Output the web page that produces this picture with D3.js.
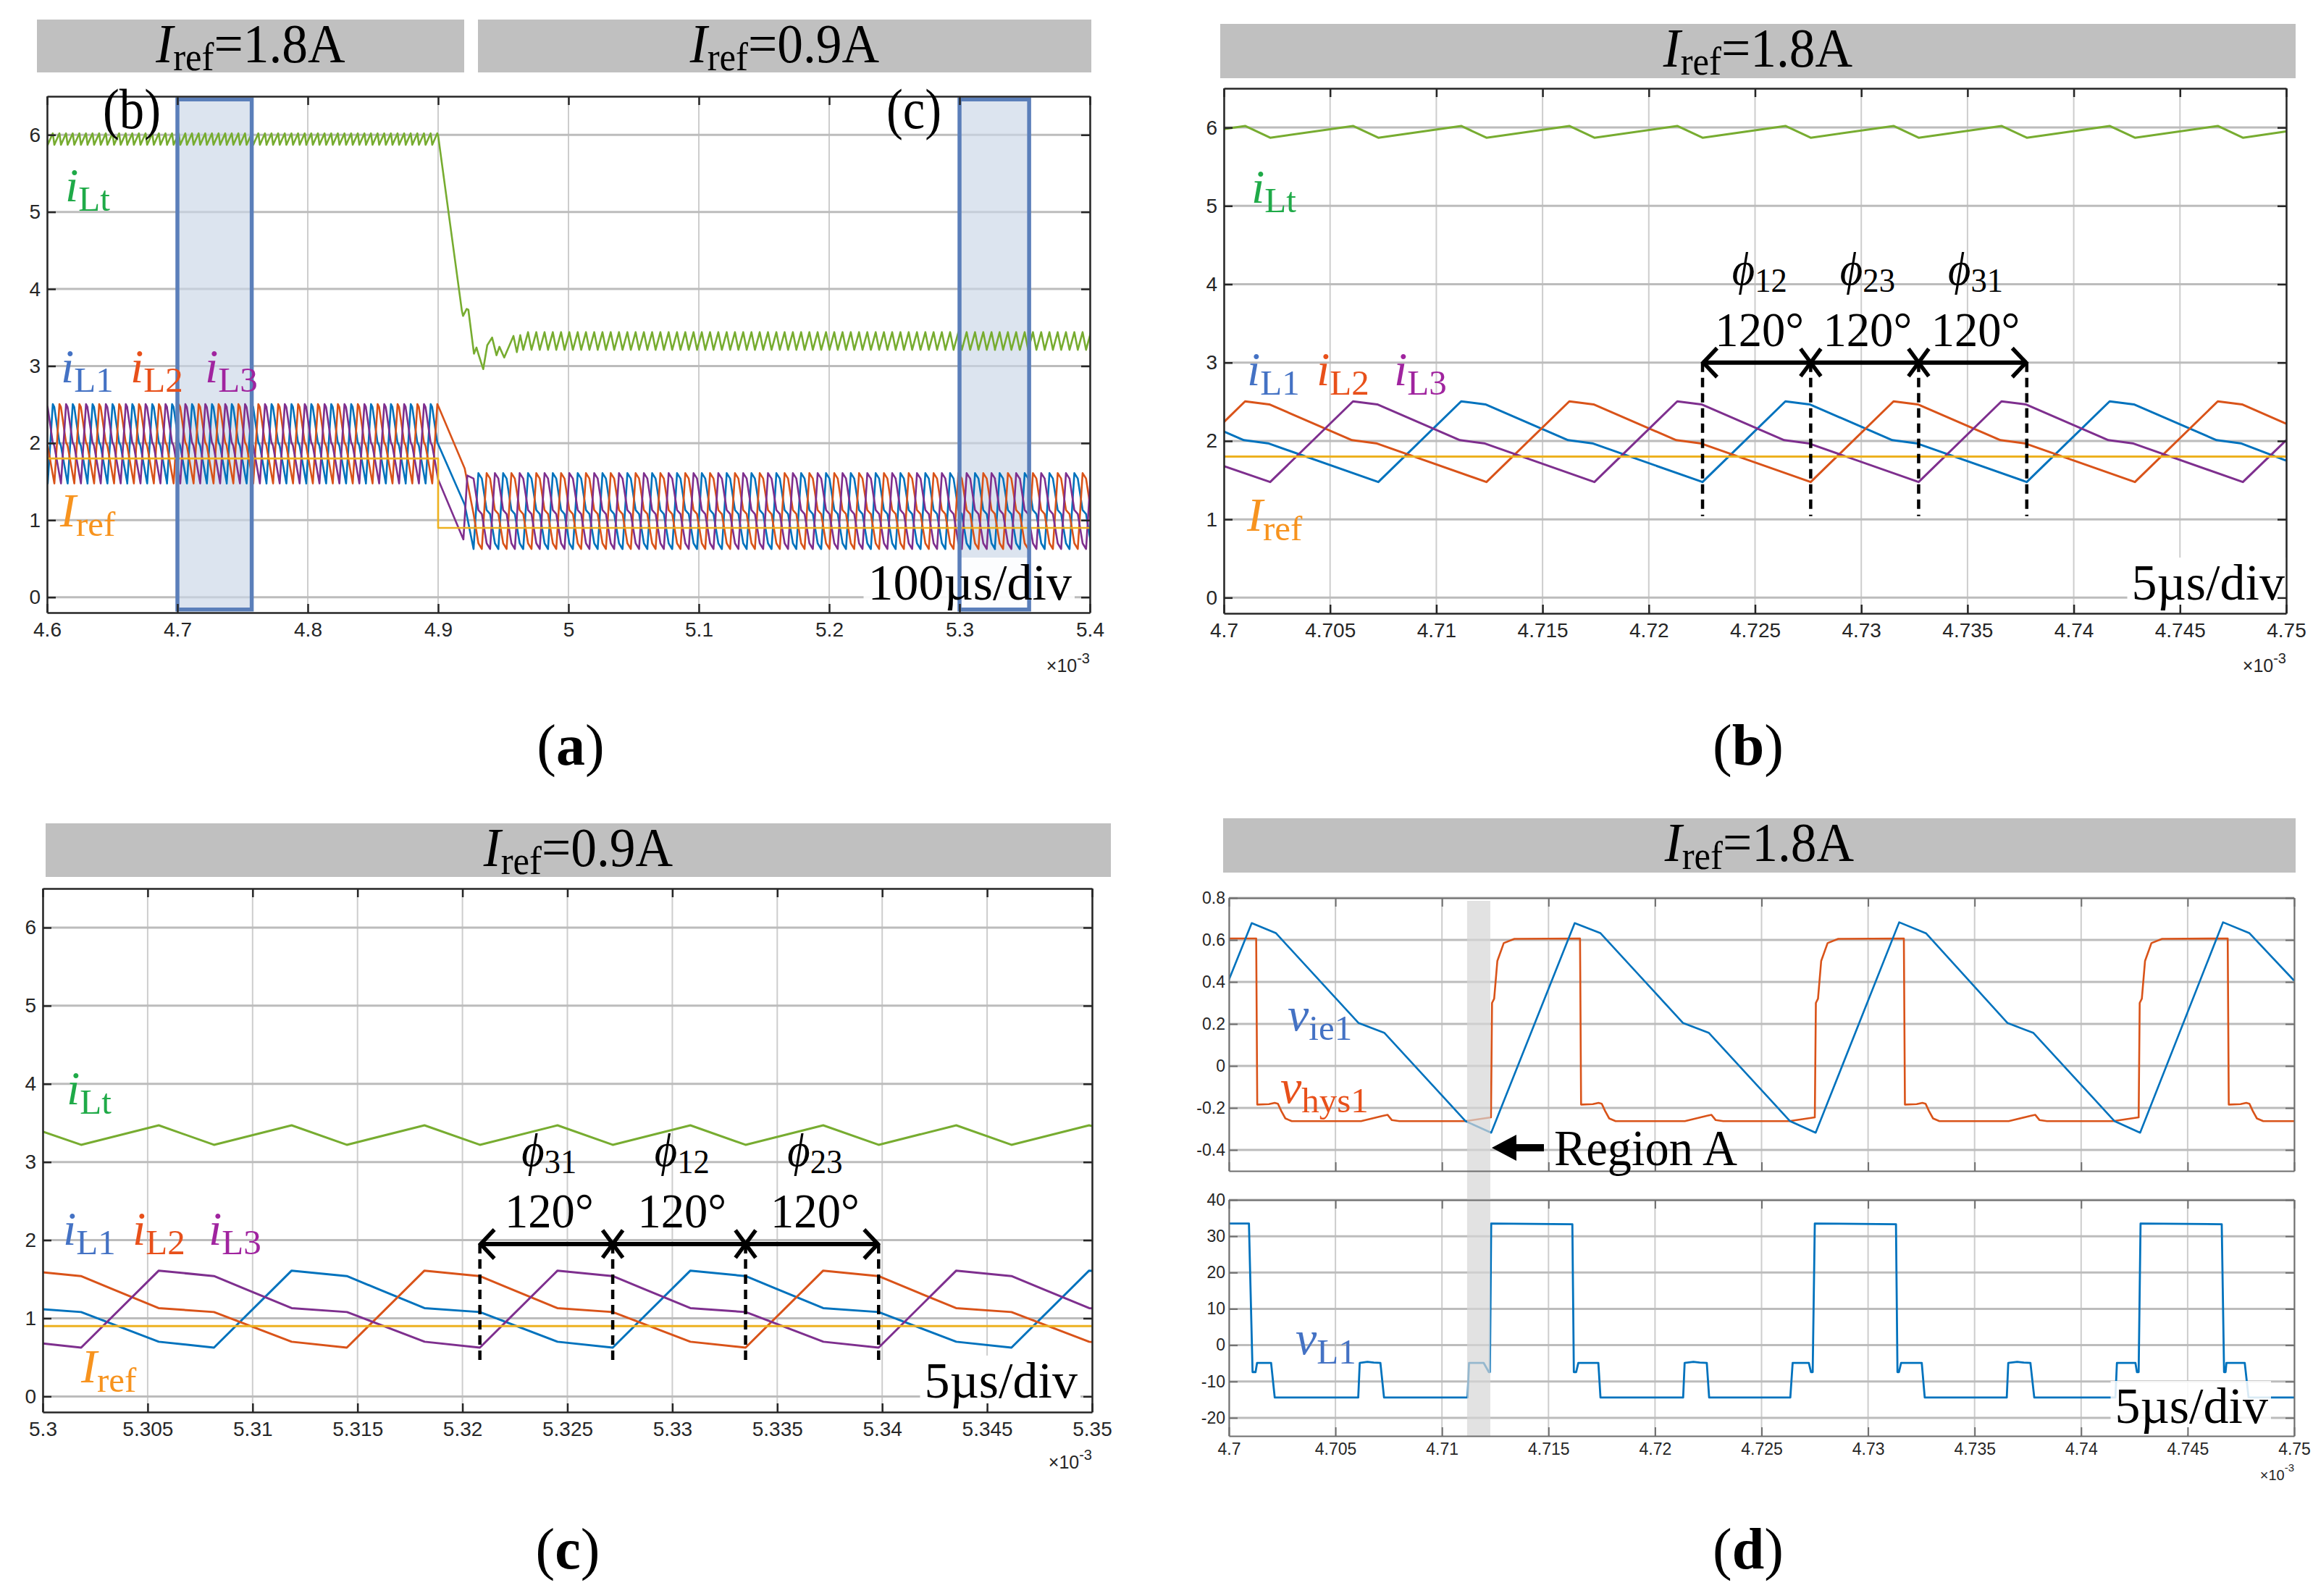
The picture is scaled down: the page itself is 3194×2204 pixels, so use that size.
<!DOCTYPE html>
<html><head><meta charset="utf-8">
<script src="https://cdn.jsdelivr.net/npm/d3@7"></script>
<style>body{margin:0;background:#fff}svg{display:block}</style>
</head><body>
<svg id="c" width="3194" height="2204" xmlns="http://www.w3.org/2000/svg"></svg>
<script>
// ================= DATA =================
const iTicks = [0, 1, 2, 3, 4, 5, 6];
const iTickLabels = ["0", "1", "2", "3", "4", "5", "6"];
const a_xTicks = [4.6, 4.7, 4.8, 4.9, 5.0, 5.1, 5.2, 5.3, 5.4];
const a_xTickLabels = ["4.6", "4.7", "4.8", "4.9", "5", "5.1", "5.2", "5.3", "5.4"];
const b_xTicks = [4.7, 4.705, 4.71, 4.715, 4.72, 4.725, 4.73, 4.735, 4.74, 4.745, 4.75];
const b_xTickLabels = ["4.7", "4.705", "4.71", "4.715", "4.72", "4.725", "4.73", "4.735", "4.74", "4.745", "4.75"];
const c_xTicks = [5.3, 5.305, 5.31, 5.315, 5.32, 5.325, 5.33, 5.335, 5.34, 5.345, 5.35];
const c_xTickLabels = ["5.3", "5.305", "5.31", "5.315", "5.32", "5.325", "5.33", "5.335", "5.34", "5.345", "5.35"];
const d_vTicks = [-0.4, -0.2, 0, 0.2, 0.4, 0.6, 0.8];
const d_vTickLabels = ["-0.4", "-0.2", "0", "0.2", "0.4", "0.6", "0.8"];
const d_vLTicks = [-20, -10, 0, 10, 20, 30, 40];
const d_vLTickLabels = ["-20", "-10", "0", "10", "20", "30", "40"];

// ---- Panel (a): times in µs after 4.6 ms ----
// iL1 valley times (start of each switching cycle) before and after the step
const a_preStarts = [-14.8, 0.5, 15.8, 31.0, 46.3, 61.5, 76.8, 92.0, 107.3, 122.6, 137.8, 153.1, 168.3, 183.6, 198.8, 214.1, 229.4, 244.6, 259.9, 275.1, 290.4];
const a_postStarts = [327.2, 346.2, 365.3, 384.3, 403.4, 422.4, 441.5, 460.5, 479.6, 498.6, 517.7, 536.7, 555.8, 574.8, 593.9, 612.9, 632.0, 651.0, 670.1, 689.1, 708.2, 727.1, 746.3, 765.3, 784.4];
// one measured switching cycle per series, [µs after iL1 valley, A]
const a_preCycle_iL1 = [[0, 1.476], [3.9, 2.505], [5.04, 2.467], [8.93, 2.01], [10.07, 1.97], [15.26, 1.476]];
const a_preCycle_iL2 = [[0, 1.96], [5.09, 1.476], [8.99, 2.505], [10.13, 2.467], [14.02, 2.01], [15.16, 1.97], [15.26, 1.96]];
const a_preCycle_iL3 = [[0, 2.461], [3.84, 2.01], [4.98, 1.97], [10.17, 1.476], [14.07, 2.505], [15.21, 2.467], [15.26, 2.461]];
const a_preCycle_iLt = [[0, 5.87], [3.9, 6.02], [5.09, 5.87], [8.99, 6.02], [10.17, 5.87], [14.07, 6.02], [15.26, 5.87]];
const a_postCycle_iL1 = [[0, 0.625], [3.7, 1.61], [6.33, 1.54], [10.03, 1.13], [12.67, 1.08], [16.37, 0.70], [19.05, 0.625]];
const a_postCycle_iL2 = [[0, 1.08], [3.7, 0.70], [6.33, 0.625], [10.03, 1.61], [12.66, 1.54], [16.36, 1.13], [19.05, 1.08]];
const a_postCycle_iL3 = [[0, 1.54], [3.7, 1.13], [6.34, 1.08], [10.04, 0.70], [12.67, 0.625], [16.37, 1.61], [19.05, 1.54]];
const a_postCycle_iLt = [[0, 3.21], [3.7, 3.44], [6.33, 3.21], [10.03, 3.44], [12.67, 3.21], [16.37, 3.44], [19.05, 3.21]];
// step transient
const a_step_iL1 = [[300, 1.986], [320.4, 1.20], [327.2, 0.625]];
const a_step_iL2 = [[300, 2.485], [320.4, 1.67], [327.2, 1.08]];
const a_step_iL3 = [[300, 1.53], [319.4, 0.75], [322.4, 1.58], [327.2, 1.54]];
const a_step_iLt = [[300, 5.99], [318.2, 3.72], [319.1, 3.65], [321.9, 3.74], [323.2, 3.73], [327.5, 3.16], [329.4, 3.24], [331.2, 3.14], [334.6, 2.96], [337.7, 3.27], [341.4, 3.37], [344.8, 3.14], [347.0, 3.25], [350.7, 3.11], [357.8, 3.39], [360.4, 3.18], [363.0, 3.40], [365.3, 3.21]];
const a_Iref = [[0, 1.8], [300, 1.8], [300, 0.9], [800, 0.9]];
const a_zoomWindows = [[100, 157], [700, 753.4]];
const a_zoomWindowLabels = ["(b)", "(c)"];

// ---- Panel (b): time in ms ----
const b_iL1 = [[4.7, 2.12], [4.70094, 2.01], [4.70208, 1.97], [4.70727, 1.476], [4.71117, 2.505], [4.71231, 2.467], [4.7162, 2.01], [4.71734, 1.97], [4.72253, 1.476], [4.72643, 2.505], [4.72757, 2.467], [4.73146, 2.01], [4.7326, 1.97], [4.73779, 1.476], [4.74169, 2.505], [4.74283, 2.467], [4.74672, 2.01], [4.74786, 1.97], [4.75, 1.75]];
const b_iL2 = [[4.7, 2.24], [4.7010, 2.505], [4.70214, 2.467], [4.70603, 2.01], [4.70717, 1.97], [4.71236, 1.476], [4.71626, 2.505], [4.7174, 2.467], [4.72129, 2.01], [4.72243, 1.97], [4.72762, 1.476], [4.73152, 2.505], [4.73266, 2.467], [4.73655, 2.01], [4.73769, 1.97], [4.74288, 1.476], [4.74678, 2.505], [4.74792, 2.467], [4.75, 2.22]];
const b_iL3 = [[4.7, 1.68], [4.70218, 1.476], [4.70608, 2.505], [4.70722, 2.467], [4.71111, 2.01], [4.71225, 1.97], [4.71744, 1.476], [4.72134, 2.505], [4.72248, 2.467], [4.72637, 2.01], [4.72751, 1.97], [4.7327, 1.476], [4.7366, 2.505], [4.73774, 2.467], [4.74163, 2.01], [4.74277, 1.97], [4.74796, 1.476], [4.75, 2.01]];
const b_iLt = [[4.7, 5.98], [4.7010, 6.02], [4.70218, 5.87], [4.70608, 6.02], [4.70727, 5.87], [4.71117, 6.02], [4.71236, 5.87], [4.71626, 6.02], [4.71744, 5.87], [4.72134, 6.02], [4.72253, 5.87], [4.72643, 6.02], [4.72762, 5.87], [4.73152, 6.02], [4.7327, 5.87], [4.7366, 6.02], [4.73779, 5.87], [4.74169, 6.02], [4.74288, 5.87], [4.74678, 6.02], [4.74796, 5.87], [4.75, 5.95]];
const b_Iref = [[4.7, 1.8], [4.75, 1.8]];
const b_markers = [4.72253, 4.72762, 4.7327, 4.73779];
const b_phiLabels = ["12", "23", "31"];
const b_arrowLevel = 3.0, b_dashBottom = 1.04;

// ---- Panel (c): time in ms ----
const c_iL1 = [[5.3, 1.115], [5.30183, 1.08], [5.30553, 0.70], [5.30816, 0.625], [5.31186, 1.61], [5.31449, 1.54], [5.31819, 1.13], [5.32083, 1.08], [5.32453, 0.70], [5.32716, 0.625], [5.33086, 1.61], [5.33349, 1.54], [5.33719, 1.13], [5.33983, 1.08], [5.34353, 0.70], [5.34616, 0.625], [5.34986, 1.61], [5.35, 1.606]];
const c_iL2 = [[5.3, 1.588], [5.30182, 1.54], [5.30552, 1.13], [5.30816, 1.08], [5.31186, 0.70], [5.31449, 0.625], [5.31819, 1.61], [5.32082, 1.54], [5.32452, 1.13], [5.32716, 1.08], [5.33086, 0.70], [5.33349, 0.625], [5.33719, 1.61], [5.33982, 1.54], [5.34352, 1.13], [5.34616, 1.08], [5.34986, 0.70], [5.35, 0.696]];
const c_iL3 = [[5.3, 0.677], [5.30183, 0.625], [5.30553, 1.61], [5.30816, 1.54], [5.31186, 1.13], [5.3145, 1.08], [5.3182, 0.70], [5.32083, 0.625], [5.32453, 1.61], [5.32716, 1.54], [5.33086, 1.13], [5.3335, 1.08], [5.3372, 0.70], [5.33983, 0.625], [5.34353, 1.61], [5.34616, 1.54], [5.34986, 1.13], [5.35, 1.128]];
const c_iLt = [[5.3, 3.39], [5.30183, 3.22], [5.30553, 3.47], [5.30816, 3.22], [5.31186, 3.47], [5.31449, 3.22], [5.31819, 3.47], [5.32083, 3.22], [5.32453, 3.47], [5.32716, 3.22], [5.33086, 3.47], [5.33349, 3.22], [5.33719, 3.47], [5.33983, 3.22], [5.34353, 3.47], [5.34616, 3.22], [5.34986, 3.47], [5.35, 3.46]];
const c_Iref = [[5.3, 0.9], [5.35, 0.9]];
const c_markers = [5.32083, 5.32716, 5.33349, 5.33983];
const c_phiLabels = ["31", "12", "23"];
const c_arrowLevel = 1.95, c_dashBottom = 0.45;

// ---- Panel (d): times in µs after 4.7 ms ----
const d_vie1 = [[0, 0.41], [1.07, 0.68], [2.20, 0.633], [6.09, 0.204], [7.29, 0.158], [11.11, -0.263], [12.31, -0.318], [16.23, 0.68], [17.43, 0.633], [21.32, 0.204], [22.52, 0.158], [26.34, -0.263], [27.54, -0.318], [31.46, 0.684], [32.73, 0.631], [36.55, 0.204], [37.75, 0.158], [41.57, -0.263], [42.77, -0.318], [46.66, 0.684], [47.89, 0.633], [50.0, 0.406]];
const d_vhys1 = [[0, 0.607], [1.28, 0.607], [1.33, -0.184], [1.88, -0.182], [2.15, -0.176], [2.30, -0.18], [2.46, -0.215], [2.65, -0.25], [2.95, -0.263], [6.2, -0.263], [7.25, -0.237], [7.45, -0.233], [7.65, -0.258], [8.0, -0.263], [11.1, -0.263], [12.3, -0.245], [12.35, 0.30], [12.45, 0.32], [12.6, 0.50], [12.9, 0.585], [13.4, 0.605],
  [16.48, 0.607], [16.53, -0.184], [17.08, -0.182], [17.35, -0.176], [17.5, -0.18], [17.66, -0.215], [17.85, -0.25], [18.15, -0.263], [21.4, -0.263], [22.45, -0.237], [22.65, -0.233], [22.85, -0.258], [23.2, -0.263], [26.3, -0.263], [27.5, -0.245], [27.55, 0.30], [27.65, 0.32], [27.8, 0.50], [28.1, 0.585], [28.6, 0.605],
  [31.68, 0.607], [31.73, -0.184], [32.28, -0.182], [32.55, -0.176], [32.7, -0.18], [32.86, -0.215], [33.05, -0.25], [33.35, -0.263], [36.6, -0.263], [37.65, -0.237], [37.85, -0.233], [38.05, -0.258], [38.4, -0.263], [41.5, -0.263], [42.7, -0.245], [42.75, 0.30], [42.85, 0.32], [43.0, 0.50], [43.3, 0.585], [43.8, 0.605],
  [46.88, 0.607], [46.93, -0.184], [47.48, -0.182], [47.75, -0.176], [47.9, -0.18], [48.06, -0.215], [48.25, -0.25], [48.55, -0.263], [50, -0.263]];
const d_vL1 = [[0, 33.5], [0.94, 33.5], [1.11, -7.4], [1.25, -7.4], [1.32, -4.9], [1.98, -4.9], [2.15, -14.4], [6.07, -14.4], [6.14, -4.9], [6.5, -4.6], [6.8, -4.8], [7.11, -4.9], [7.28, -14.4], [11.2, -14.4], [11.27, -4.9], [11.96, -4.9], [12.2, -7.4], [12.25, -7.4], [12.31, 33.5],
  [16.12, 33.3], [16.19, -7.4], [16.3, -7.4], [16.4, -4.9], [17.34, -4.9], [17.44, -14.4], [21.32, -14.4], [21.39, -4.9], [21.8, -4.6], [22.1, -4.8], [22.43, -4.9], [22.54, -14.4], [26.35, -14.4], [26.46, -4.9], [27.22, -4.9], [27.32, -7.4], [27.4, -7.4], [27.5, 33.5],
  [31.31, 33.3], [31.38, -7.4], [31.45, -7.4], [31.55, -4.9], [32.52, -4.9], [32.66, -14.4], [36.51, -14.4], [36.58, -4.9], [37.0, -4.6], [37.3, -4.8], [37.62, -4.9], [37.8, -14.4], [41.61, -14.4], [41.68, -4.9], [42.55, -4.9], [42.62, -7.4], [42.7, -7.4], [42.79, 33.5],
  [46.6, 33.3], [46.71, -7.4], [46.78, -7.4], [46.82, -4.9], [47.68, -4.9], [47.86, -14.4], [50, -14.4]];
const d_regionA = [11.18, 12.27];

// ================= RENDER =================
const svg = d3.select("#c");
const SERIF = "'Liberation Serif','Times New Roman','DejaVu Serif',serif";
const SANS = "'Liberation Sans',Arial,sans-serif";
const LINE = { iL1: "#0072BD", iL2: "#D95319", iL3: "#7E2F8E", iLt: "#77AC30", Iref: "#EDB120" };
const LAB = { iL1: "#4472C4", iL2: "#E8501A", iL3: "#A0249F", iLt: "#1FAA48", Iref: "#F7931E" };
svg.append("rect").attr("width", 3194).attr("height", 2204).attr("fill", "#fff");
const layers = {};
["banner", "grid", "fill", "lines", "bg", "stroke", "axes", "text"].forEach(k => layers[k] = svg.append("g"));

let clipN = 0;
function makePanel(o) {
  const x = d3.scaleLinear().domain(o.xd).range([o.L, o.R]);
  const y = d3.scaleLinear().domain(o.yd).range([o.B, o.T]);
  const g = layers.grid.append("g");
  g.selectAll("line.v").data(o.xt).join("line").attr("class", "v")
    .attr("x1", d => x(d)).attr("x2", d => x(d)).attr("y1", o.T).attr("y2", o.B)
    .attr("stroke", "#cdcdcd").attr("stroke-width", 2);
  g.selectAll("line.h").data(o.yt).join("line").attr("class", "h")
    .attr("x1", o.L).attr("x2", o.R).attr("y1", d => y(d)).attr("y2", d => y(d))
    .attr("stroke", "#bcbcbc").attr("stroke-width", 3);
  const id = "clip" + (clipN++);
  svg.append("clipPath").attr("id", id).append("rect")
    .attr("x", o.L).attr("y", o.T).attr("width", o.R - o.L).attr("height", o.B - o.T);
  const plot = layers.lines.append("g").attr("clip-path", `url(#${id})`);
  return { x, y, o, plot };
}
function drawAxes(p) {
  const { x, y, o } = p;
  const g = layers.axes.append("g").attr("color", o.frame);
  const tk = 12;
  g.append("g").attr("transform", `translate(0,${o.B})`)
    .call(d3.axisBottom(x).tickValues(o.xt).tickFormat(o.xl ? (d, i) => o.xl[i] : () => "").tickSizeInner(-tk).tickSizeOuter(0).tickPadding(o.xpad));
  g.append("g").attr("transform", `translate(0,${o.T})`)
    .call(d3.axisTop(x).tickValues(o.xt).tickFormat(() => "").tickSizeInner(-tk).tickSizeOuter(0));
  g.append("g").attr("transform", `translate(${o.L},0)`)
    .call(d3.axisLeft(y).tickValues(o.yt).tickFormat((d, i) => o.yl[i]).tickSizeInner(-tk).tickSizeOuter(0).tickPadding(o.ypad));
  g.append("g").attr("transform", `translate(${o.R},0)`)
    .call(d3.axisRight(y).tickValues(o.yt).tickFormat(() => "").tickSizeInner(-tk).tickSizeOuter(0));
  g.selectAll(".domain").attr("stroke-width", o.fw);
  g.selectAll(".tick line").attr("stroke-width", o.fw);
  g.selectAll(".tick text").attr("fill", "#262626").attr("font-family", SANS).attr("font-size", o.fs);
  if (o.exp) {
    const t = layers.text.append("text").attr("x", o.R).attr("y", o.exp).attr("text-anchor", "end")
      .attr("font-family", SANS).attr("font-size", o.fs - 3).attr("fill", "#262626");
    t.append("tspan").text("×10");
    t.append("tspan").attr("font-size", o.fs - 8).attr("dy", -12).text("-3");
  }
}
function drawLine(p, data, color, w) {
  p.plot.append("path").datum(data).attr("fill", "none").attr("stroke", color)
    .attr("stroke-width", w).attr("stroke-linejoin", "round")
    .attr("d", d3.line().x(d => p.x(d[0])).y(d => p.y(d[1])));
}
// text placed at (x, baseline) with optional horizontal condensing
function placed(x, yb, sx, fs, color, anchor) {
  const g = layers.text.append("g").attr("transform", `translate(${x},${yb}) scale(${sx},1)`);
  const t = g.append("text").attr("x", 0).attr("y", 0).attr("font-family", SERIF)
    .attr("font-size", fs).attr("fill", color);
  if (anchor) t.attr("text-anchor", anchor);
  return t;
}
function subLabel(x, yb, main, sub, color, o = {}) {
  const fs = o.fs || 66, sfs = o.sfs || 49, dy = o.dy || 13;
  const t = placed(x, yb, o.sx || 1, fs, color, o.anchor);
  t.append("tspan").attr("font-style", "italic").text(main);
  t.append("tspan").attr("font-size", sfs).attr("dy", dy).text(sub);
  if (o.tail) t.append("tspan").attr("dy", -dy).text(o.tail);
  return t;
}
function banner(x0, x1, y0, y1, valueText) {
  layers.banner.append("rect").attr("x", x0).attr("y", y0).attr("width", x1 - x0).attr("height", y1 - y0).attr("fill", "#c0c0c0");
  subLabel((x0 + x1) / 2, y0 + 59, "I", "ref", "#000", { fs: 76, sfs: 54, dy: 11, tail: valueText, anchor: "middle", sx: 0.94 });
}
function divLabel(txt, xr, yb, limitB, op) {
  const t = layers.text.append("text").attr("x", xr).attr("y", yb).attr("text-anchor", "end")
    .attr("font-family", SERIF).attr("font-size", 70).attr("fill", "#000").text(txt);
  const bb = t.node().getBBox();
  const yTop = bb.y + 4, yBot = Math.min(bb.y + bb.height, limitB - 3);
  layers.bg.append("rect").attr("x", bb.x - 6).attr("y", yTop).attr("width", bb.width + 10).attr("height", yBot - yTop)
    .attr("fill", "#fff").attr("opacity", op);
}
function caption(cx, yb, letter) {
  const t = placed(cx, yb, 1, 80, "#000", "middle");
  t.append("tspan").text("(");
  t.append("tspan").attr("font-weight", "bold").text(letter);
  t.append("tspan").text(")");
}
function phaseArrow(p, markers, level, bottom, phis) {
  const y = p.y(level), xs = markers.map(m => p.x(m));
  const g = layers.text.append("g").attr("stroke", "#000").attr("fill", "none");
  xs.forEach(xx => g.append("line").attr("x1", xx).attr("x2", xx).attr("y1", y).attr("y2", p.y(bottom))
    .attr("stroke-width", 4.5).attr("stroke-dasharray", "13 8"));
  g.append("line").attr("x1", xs[0]).attr("x2", xs[xs.length - 1]).attr("y1", y).attr("y2", y).attr("stroke-width", 6);
  g.append("path").attr("stroke-width", 5.5).attr("d", `M${xs[0] + 20},${y - 20}L${xs[0] + 1},${y}L${xs[0] + 20},${y + 20}`);
  const xe = xs[xs.length - 1];
  g.append("path").attr("stroke-width", 5.5).attr("d", `M${xe - 20},${y - 20}L${xe - 1},${y}L${xe - 20},${y + 20}`);
  xs.slice(1, -1).forEach(xx => g.append("path").attr("stroke-width", 5.5)
    .attr("d", `M${xx - 14},${y - 19}L${xx + 14},${y + 19}M${xx + 14},${y - 19}L${xx - 14},${y + 19}`));
  for (let i = 0; i < xs.length - 1; i++) {
    const cx = (xs[i] + xs[i + 1]) / 2 + 4;
    subLabel(cx, y - 108, "ϕ", phis[i], "#000", { fs: 64, sfs: 47, dy: 10, anchor: "middle", sx: 0.95 });
    placed(cx, y - 23, 0.95, 68, "#000", "middle").text("120°");
  }
}
function tile(starts, cycle, keep) {
  const out = [];
  starts.forEach(s => cycle.forEach(([dt, v]) => { const t = s + dt; if (keep(t, s)) out.push([t, v]); }));
  return out;
}
const usToMs = (arr, base) => arr.map(([t, v]) => [base + t / 1000, v]);
function phaseLabels(xs, yb) {
  subLabel(xs[0], yb, "i", "L1", LAB.iL1);
  subLabel(xs[1], yb, "i", "L2", LAB.iL2);
  subLabel(xs[2], yb, "i", "L3", LAB.iL3);
}

// ---------- Panel (a) ----------
banner(51, 641, 27, 100, "=1.8A");
banner(660, 1507, 27, 100, "=0.9A");
const pA = makePanel({ L: 65, R: 1505, T: 133, B: 846, xd: [4.6, 5.4], yd: [-0.2, 6.5], xt: a_xTicks, yt: iTicks,
  xl: a_xTickLabels, yl: iTickLabels, frame: "#262626", fw: 2.5, fs: 28, xpad: 13, ypad: 9, exp: 928 });
a_zoomWindows.forEach(([t0, t1]) => {
  layers.fill.append("rect").attr("x", pA.x(4.6 + t0 / 1000)).attr("y", pA.y(6.46))
    .attr("width", pA.x(4.6 + t1 / 1000) - pA.x(4.6 + t0 / 1000)).attr("height", pA.y(-0.16) - pA.y(6.46))
    .attr("fill", "#c9d5e6").attr("opacity", 0.65);
});
function aSeries(pre, step, post, postKeep) {
  const last = step[step.length - 1][0];
  return usToMs([
    ...tile(a_preStarts, pre, t => t < 300),
    ...step,
    ...tile(a_postStarts, post, (t, s) => postKeep(s) && t > last)
  ], 4.6);
}
drawLine(pA, aSeries(a_preCycle_iLt, a_step_iLt, a_postCycle_iLt, s => s >= 365.3), LINE.iLt, 2.6);
drawLine(pA, aSeries(a_preCycle_iL1, a_step_iL1, a_postCycle_iL1, () => true), LINE.iL1, 2.6);
drawLine(pA, aSeries(a_preCycle_iL2, a_step_iL2, a_postCycle_iL2, () => true), LINE.iL2, 2.6);
drawLine(pA, aSeries(a_preCycle_iL3, a_step_iL3, a_postCycle_iL3, () => true), LINE.iL3, 2.6);
drawLine(pA, usToMs(a_Iref, 4.6), LINE.Iref, 2.6);
a_zoomWindows.forEach(([t0, t1], i) => {
  const x0 = pA.x(4.6 + t0 / 1000), x1 = pA.x(4.6 + t1 / 1000);
  layers.stroke.append("rect").attr("x", x0).attr("y", pA.y(6.46)).attr("width", x1 - x0)
    .attr("height", pA.y(-0.16) - pA.y(6.46)).attr("fill", "none").attr("stroke", "#5b7fba").attr("stroke-width", 5.5);
  placed(x0 - 63, 177, 0.88, 78, "#000", "middle").text(a_zoomWindowLabels[i]);
});
drawAxes(pA);
divLabel("100µs/div", 1480, 828, 846, 0.9);
subLabel(90, 278, "i", "Lt", LAB.iLt);
phaseLabels([84, 180, 283], 528);
subLabel(83, 727, "I", "ref", LAB.Iref);
caption(788, 1056, "a");

// ---------- Panel (b) ----------
banner(1685, 3170, 33, 108, "=1.8A");
const pB = makePanel({ L: 1690, R: 3157, T: 122, B: 847, xd: [4.7, 4.75], yd: [-0.2, 6.5], xt: b_xTicks, yt: iTicks,
  xl: b_xTickLabels, yl: iTickLabels, frame: "#262626", fw: 2.5, fs: 28, xpad: 13, ypad: 9, exp: 928 });
drawLine(pB, b_iLt, LINE.iLt, 3);
drawLine(pB, b_iL1, LINE.iL1, 3);
drawLine(pB, b_iL2, LINE.iL2, 3);
drawLine(pB, b_iL3, LINE.iL3, 3);
drawLine(pB, b_Iref, LINE.Iref, 3);
drawAxes(pB);
divLabel("5µs/div", 3155, 828, 847, 1);
phaseArrow(pB, b_markers, b_arrowLevel, b_dashBottom, b_phiLabels);
subLabel(1728, 280, "i", "Lt", LAB.iLt);
phaseLabels([1722, 1818, 1925], 532);
subLabel(1722, 733, "I", "ref", LAB.Iref);
caption(2414, 1056, "b");

// ---------- Panel (c) ----------
banner(63, 1534, 1137, 1211, "=0.9A");
const pC = makePanel({ L: 59, R: 1508, T: 1227, B: 1950, xd: [5.3, 5.35], yd: [-0.2, 6.5], xt: c_xTicks, yt: iTicks,
  xl: c_xTickLabels, yl: iTickLabels, frame: "#262626", fw: 2.5, fs: 28, xpad: 13, ypad: 9, exp: 2028 });
drawLine(pC, c_iLt, LINE.iLt, 3);
drawLine(pC, c_iL1, LINE.iL1, 3);
drawLine(pC, c_iL2, LINE.iL2, 3);
drawLine(pC, c_iL3, LINE.iL3, 3);
drawLine(pC, c_Iref, LINE.Iref, 3);
drawAxes(pC);
divLabel("5µs/div", 1488, 1930, 1950, 1);
phaseArrow(pC, c_markers, c_arrowLevel, c_dashBottom, c_phiLabels);
subLabel(92, 1525, "i", "Lt", LAB.iLt);
phaseLabels([87, 183, 288], 1719);
subLabel(112, 1909, "I", "ref", LAB.Iref);
caption(784, 2166, "c");

// ---------- Panel (d) ----------
banner(1689, 3170, 1130, 1205, "=1.8A");
const pD1 = makePanel({ L: 1697, R: 3168, T: 1240, B: 1617, xd: [4.7, 4.75], yd: [-0.5, 0.8], xt: b_xTicks, yt: d_vTicks,
  xl: null, yl: d_vTickLabels, frame: "#6e6e6e", fw: 2, fs: 23, xpad: 10, ypad: 5 });
const pD2 = makePanel({ L: 1697, R: 3168, T: 1657, B: 1983, xd: [4.7, 4.75], yd: [-25, 40], xt: b_xTicks, yt: d_vLTicks,
  xl: b_xTickLabels, yl: d_vLTickLabels, frame: "#6e6e6e", fw: 2, fs: 23, xpad: 10, ypad: 5, exp: 2044 });
drawLine(pD1, usToMs(d_vhys1, 4.7), LINE.iL2, 2.6);
drawLine(pD1, usToMs(d_vie1, 4.7), LINE.iL1, 2.6);
drawLine(pD2, usToMs(d_vL1, 4.7), LINE.iL1, 2.8);
const rx0 = pD1.x(4.7 + d_regionA[0] / 1000), rx1 = pD1.x(4.7 + d_regionA[1] / 1000);
layers.bg.append("rect").attr("x", rx0).attr("y", pD1.o.T + 4).attr("width", rx1 - rx0)
  .attr("height", pD2.o.B - pD1.o.T - 4).attr("fill", "#d6d6d6").attr("opacity", 0.7);
drawAxes(pD1);
drawAxes(pD2);
divLabel("5µs/div", 3132, 1965, 1983, 0.85);
const ay = pD1.y(-0.39);
layers.text.append("path").attr("fill", "#000")
  .attr("d", `M${rx1 + 2},${ay}L${rx1 + 36},${ay - 18}L${rx1 + 36},${ay - 5}L${rx1 + 74},${ay - 5}L${rx1 + 74},${ay + 5}L${rx1 + 36},${ay + 5}L${rx1 + 36},${ay + 18}Z`);
placed(rx1 + 88, ay + 24, 0.95, 70, "#000", null).text("Region A");
subLabel(1778, 1423, "v", "ie1", LAB.iL1);
subLabel(1768, 1523, "v", "hys1", LAB.iL2);
subLabel(1789, 1870, "v", "L1", LAB.iL1);
caption(2414, 2166, "d");
</script>
</body></html>
